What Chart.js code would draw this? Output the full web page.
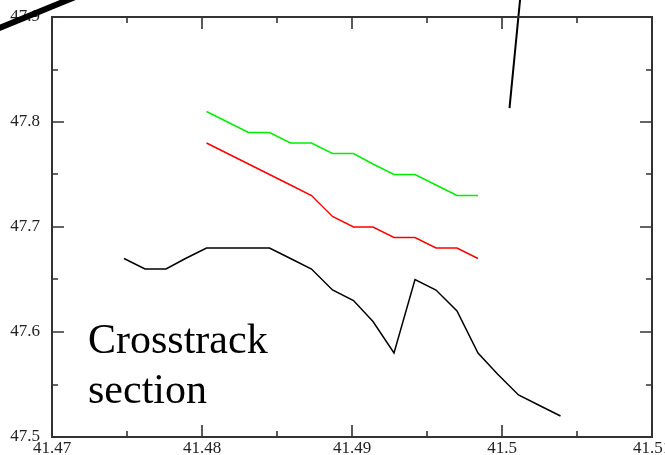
<!DOCTYPE html>
<html>
<head>
<meta charset="utf-8">
<script src="https://cdn.jsdelivr.net/npm/chart.js@4.4.1/dist/chart.umd.min.js"></script>
<style>
  html, body { margin: 0; padding: 0; background: #fff; overflow: hidden; }
</style>
</head>
<body>
<canvas id="chart" width="700" height="455"></canvas>
<script>
const xPos = [41.4748, 41.4762, 41.4776, 41.4789, 41.4803, 41.4817, 41.4831, 41.4845, 41.4859, 41.4873, 41.4887,
  41.4901, 41.4914, 41.4928, 41.4942, 41.4956, 41.4970, 41.4984, 41.4997, 41.5011, 41.5025, 41.5039];
const blackLine = [47.67, 47.66, 47.66, 47.67, 47.68, 47.68, 47.68, 47.68, 47.67, 47.66, 47.64,
  47.63, 47.61, 47.58, 47.65, 47.64, 47.62, 47.58, 47.56, 47.54, 47.53, 47.52];
// red and green start at the 5th point and stop at the 18th
const redX = xPos.slice(4, 18);
const redLine = [47.78, 47.77, 47.76, 47.75, 47.74, 47.73, 47.71, 47.70, 47.70, 47.69, 47.69, 47.68, 47.68, 47.67];
const greenLine = [47.81, 47.80, 47.79, 47.79, 47.78, 47.78, 47.77, 47.77, 47.76, 47.75, 47.75, 47.74, 47.73, 47.73];

// the two stray segments that run off the frame
const thickX = [41.4652, 41.4722];
const thickY = [47.8821, 47.9229];
const thinX = [41.5005, 41.5013];
const thinY = [47.8133, 47.9305];

const xTicks = [41.47, 41.48, 41.49, 41.50, 41.51];
const yTicks = [47.5, 47.6, 47.7, 47.8, 47.9];

const toPts = (xs, ys) => xs.map((x, i) => ({ x, y: ys[i] }));

const FONT = "'Liberation Serif', 'Times New Roman', serif";

// frame with inward ticks on all four sides
const framePlugin = {
  id: 'frame',
  afterDatasetsDraw(chart) {
    const { ctx, chartArea: a, scales: { x, y } } = chart;
    ctx.save();
    ctx.strokeStyle = '#333';
    ctx.lineWidth = 2;
    ctx.strokeRect(a.left, a.top, a.right - a.left, a.bottom - a.top);
    ctx.lineWidth = 1.6;
    const tick = (len, xv, yv) => {
      ctx.beginPath();
      if (xv !== null) {
        const px = Math.round(x.getPixelForValue(xv));
        ctx.moveTo(px, a.bottom); ctx.lineTo(px, a.bottom - len);
        ctx.moveTo(px, a.top); ctx.lineTo(px, a.top + len);
      } else {
        const py = Math.round(y.getPixelForValue(yv));
        ctx.moveTo(a.left, py); ctx.lineTo(a.left + len, py);
        ctx.moveTo(a.right, py); ctx.lineTo(a.right - len, py);
      }
      ctx.stroke();
    };
    xTicks.forEach((v, i) => {
      tick(12, v, null);
      if (i < xTicks.length - 1) tick(6, (v + xTicks[i + 1]) / 2, null);
    });
    yTicks.forEach((v, i) => {
      tick(12, null, v);
      if (i < yTicks.length - 1) tick(6, null, (v + yTicks[i + 1]) / 2);
    });
    ctx.restore();
  },
  afterDraw(chart) {
    const { ctx, scales: { x, y } } = chart;
    const px = x.getPixelForValue(41.4724);
    const py = y.getPixelForValue(47.58);
    ctx.save();
    ctx.fillStyle = '#000';
    ctx.font = '42px ' + FONT;
    ctx.textBaseline = 'alphabetic';
    ctx.fillText('Crosstrack', px, py);
    ctx.fillText('section', px, py + 50);
    ctx.restore();
  }
};

const line = (data, color, width) => ({
  data, borderColor: color, borderWidth: width, pointRadius: 0,
  tension: 0, fill: false, clip: false, showLine: true
});

new Chart(document.getElementById('chart'), {
  type: 'scatter',
  data: {
    datasets: [
      line(toPts(xPos, blackLine), '#000', 1.5),
      line(toPts(redX, redLine), '#ff0000', 1.5),
      line(toPts(redX, greenLine), '#00ee00', 1.5),
      line(toPts(thickX, thickY), '#000', 6),
      line(toPts(thinX, thinY), '#000', 2)
    ]
  },
  options: {
    responsive: false,
    animation: false,
    layout: { padding: { top: 17, right: 48, left: 0, bottom: 0 } },
    plugins: { legend: { display: false }, tooltip: { enabled: false } },
    scales: {
      x: {
        type: 'linear', min: 41.47, max: 41.51,
        afterBuildTicks: s => { s.ticks = xTicks.map(v => ({ value: v })); },
        afterFit: s => { s.height = 18; },
        grid: { display: false }, border: { display: false },
        ticks: {
          color: '#222', padding: -7, font: { family: FONT, size: 17 },
          callback: v => String(Number(v.toFixed(4)))
        }
      },
      y: {
        type: 'linear', min: 47.5, max: 47.9,
        afterBuildTicks: s => { s.ticks = yTicks.map(v => ({ value: v })); },
        afterFit: s => { s.width = 52; },
        grid: { display: false }, border: { display: false },
        ticks: {
          color: '#222', padding: 4, font: { family: FONT, size: 17 },
          callback: v => String(Number(v.toFixed(4)))
        }
      }
    }
  },
  plugins: [framePlugin]
});
</script>
</body>
</html>
